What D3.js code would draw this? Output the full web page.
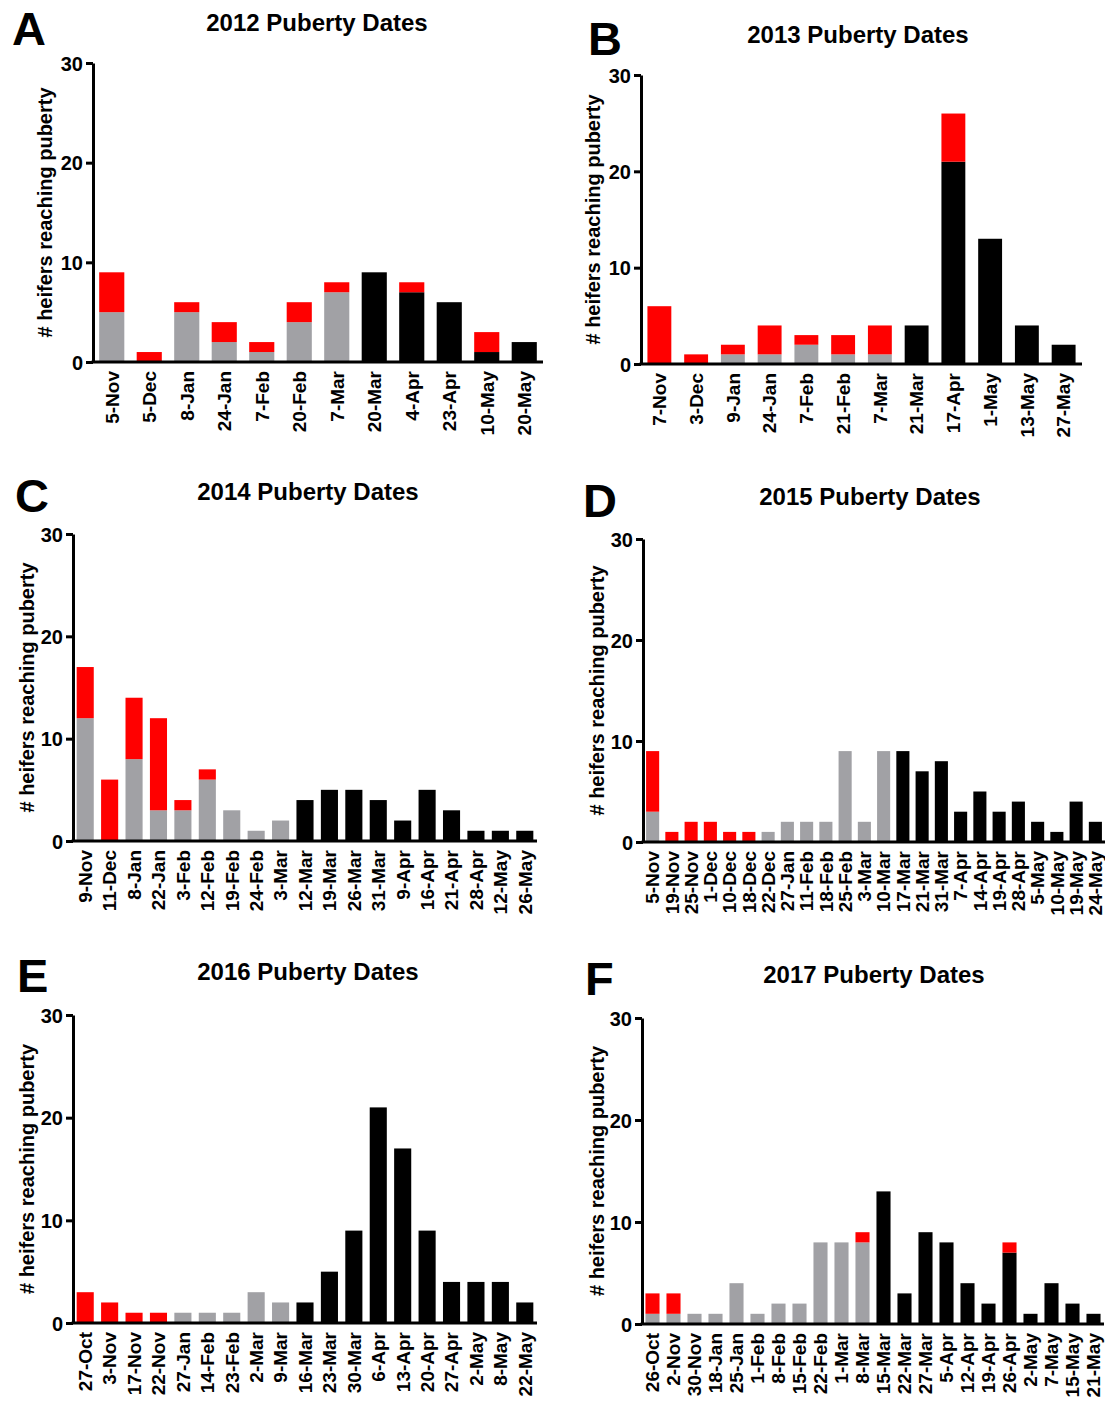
<!DOCTYPE html>
<html>
<head>
<meta charset="utf-8">
<script src="https://cdn.jsdelivr.net/npm/d3@7"></script>
<style>
  body { margin: 0; background: #fff; }
  text { font-family: "Liberation Sans", Arial, sans-serif; font-weight: bold; fill: #000; }
</style>
</head>
<body>
<svg id="fig" width="1105" height="1406"></svg>
<script>
// ---- data ----
var datesA = ["5-Nov", "5-Dec", "8-Jan", "24-Jan", "7-Feb", "20-Feb", "7-Mar", "20-Mar", "4-Apr", "23-Apr", "10-May", "20-May"];
var greyA  = [5, 0, 5, 2, 1, 4, 7, 0, 0, 0, 0, 0];
var blackA = [0, 0, 0, 0, 0, 0, 0, 9, 7, 6, 1, 2];
var redA   = [4, 1, 1, 2, 1, 2, 1, 0, 1, 0, 2, 0];

var datesB = ["7-Nov", "3-Dec", "9-Jan", "24-Jan", "7-Feb", "21-Feb", "7-Mar", "21-Mar", "17-Apr", "1-May", "13-May", "27-May"];
var greyB  = [0, 0, 1, 1, 2, 1, 1, 0, 0, 0, 0, 0];
var blackB = [0, 0, 0, 0, 0, 0, 0, 4, 21, 13, 4, 2];
var redB   = [6, 1, 1, 3, 1, 2, 3, 0, 5, 0, 0, 0];

var datesC = ["9-Nov", "11-Dec", "8-Jan", "22-Jan", "3-Feb", "12-Feb", "19-Feb", "24-Feb", "3-Mar", "12-Mar", "19-Mar", "26-Mar", "31-Mar", "9-Apr", "16-Apr", "21-Apr", "28-Apr", "12-May", "26-May"];
var greyC  = [12, 0, 8, 3, 3, 6, 3, 1, 2, 0, 0, 0, 0, 0, 0, 0, 0, 0, 0];
var blackC = [0, 0, 0, 0, 0, 0, 0, 0, 0, 4, 5, 5, 4, 2, 5, 3, 1, 1, 1];
var redC   = [5, 6, 6, 9, 1, 1, 0, 0, 0, 0, 0, 0, 0, 0, 0, 0, 0, 0, 0];

var datesD = ["5-Nov", "19-Nov", "25-Nov", "1-Dec", "10-Dec", "18-Dec", "22-Dec", "27-Jan", "11-Feb", "18-Feb", "25-Feb", "3-Mar", "10-Mar", "17-Mar", "21-Mar", "31-Mar", "7-Apr", "14-Apr", "19-Apr", "28-Apr", "5-May", "10-May", "19-May", "24-May"];
var greyD  = [3, 0, 0, 0, 0, 0, 1, 2, 2, 2, 9, 2, 9, 0, 0, 0, 0, 0, 0, 0, 0, 0, 0, 0];
var blackD = [0, 0, 0, 0, 0, 0, 0, 0, 0, 0, 0, 0, 0, 9, 7, 8, 3, 5, 3, 4, 2, 1, 4, 2];
var redD   = [6, 1, 2, 2, 1, 1, 0, 0, 0, 0, 0, 0, 0, 0, 0, 0, 0, 0, 0, 0, 0, 0, 0, 0];

var datesE = ["27-Oct", "3-Nov", "17-Nov", "22-Nov", "27-Jan", "14-Feb", "23-Feb", "2-Mar", "9-Mar", "16-Mar", "23-Mar", "30-Mar", "6-Apr", "13-Apr", "20-Apr", "27-Apr", "2-May", "8-May", "22-May"];
var greyE  = [0, 0, 0, 0, 1, 1, 1, 3, 2, 0, 0, 0, 0, 0, 0, 0, 0, 0, 0];
var blackE = [0, 0, 0, 0, 0, 0, 0, 0, 0, 2, 5, 9, 21, 17, 9, 4, 4, 4, 2];
var redE   = [3, 2, 1, 1, 0, 0, 0, 0, 0, 0, 0, 0, 0, 0, 0, 0, 0, 0, 0];

var datesF = ["26-Oct", "2-Nov", "30-Nov", "18-Jan", "25-Jan", "1-Feb", "8-Feb", "15-Feb", "22-Feb", "1-Mar", "8-Mar", "15-Mar", "22-Mar", "27-Mar", "5-Apr", "12-Apr", "19-Apr", "26-Apr", "2-May", "7-May", "15-May", "21-May"];
var greyF  = [1, 1, 1, 1, 4, 1, 2, 2, 8, 8, 8, 0, 0, 0, 0, 0, 0, 0, 0, 0, 0, 0];
var blackF = [0, 0, 0, 0, 0, 0, 0, 0, 0, 0, 0, 13, 3, 9, 8, 4, 2, 7, 1, 4, 2, 1];
var redF   = [2, 2, 0, 0, 0, 0, 0, 0, 0, 0, 1, 0, 0, 0, 0, 0, 0, 1, 0, 0, 0, 0];

var yTicks = [0, 10, 20, 30];
var yLabel = "# heifers reaching puberty";
var colors = { grey: "#a1a1a5", black: "#000000", red: "#ff0000" };

// ---- layout of each panel ----
var panels = [
    { letter: "A", title: "2012 Puberty Dates", dates: datesA, grey: greyA, black: blackA, red: redA,
      x0: 93, x1: 543, yTop: 63, yBot: 362, pad: 0.33, tx: 317, ty: 31, lx: 12, ly: 45, ytx: 45 },
    { letter: "B", title: "2013 Puberty Dates", dates: datesB, grey: greyB, black: blackB, red: redB,
      x0: 641, x1: 1082, yTop: 75, yBot: 364, pad: 0.35, tx: 858, ty: 43, lx: 588, ly: 55, ytx: 593 },
    { letter: "C", title: "2014 Puberty Dates", dates: datesC, grey: greyC, black: blackC, red: redC,
      x0: 73, x1: 537, yTop: 534, yBot: 841, pad: 0.3, tx: 308, ty: 500, lx: 15, ly: 512, ytx: 27 },
    { letter: "D", title: "2015 Puberty Dates", dates: datesD, grey: greyD, black: blackD, red: redD,
      x0: 643, x1: 1105, yTop: 539, yBot: 842, pad: 0.32, tx: 870, ty: 505, lx: 583, ly: 517, ytx: 597 },
    { letter: "E", title: "2016 Puberty Dates", dates: datesE, grey: greyE, black: blackE, red: redE,
      x0: 73, x1: 537, yTop: 1015, yBot: 1323, pad: 0.3, tx: 308, ty: 980, lx: 17, ly: 992, ytx: 27 },
    { letter: "F", title: "2017 Puberty Dates", dates: datesF, grey: greyF, black: blackF, red: redF,
      x0: 642, x1: 1104, yTop: 1018, yBot: 1324, pad: 0.33, tx: 874, ty: 983, lx: 585, ly: 995, ytx: 597 }
];

var svg = d3.select("#fig");

panels.forEach(function(p) {
    var g = svg.append("g");

    var rows = p.dates.map(function(d, i) {
        return { date: d, grey: p.grey[i], black: p.black[i], red: p.red[i] };
    });
    var series = d3.stack().keys(["grey", "black", "red"])(rows);

    var x = d3.scaleBand()
        .domain(p.dates)
        .range([p.x0, p.x1])
        .paddingInner(p.pad)
        .paddingOuter(p.pad / 2);
    var y = d3.scaleLinear().domain([0, 30]).range([p.yBot, p.yTop]);

    //bars
    g.selectAll(".layer")
        .data(series)
        .enter().append("g")
        .attr("fill", function(d) { return colors[d.key]; })
        .selectAll("rect")
        .data(function(d) { return d.filter(function(s) { return s[1] > s[0]; }); })
        .enter().append("rect")
        .attr("x", function(d) { return x(d.data.date); })
        .attr("width", x.bandwidth())
        .attr("y", function(d) { return y(d[1]); })
        .attr("height", function(d) { return y(d[0]) - y(d[1]); });

    //y axis
    var yAxis = g.append("g")
        .attr("transform", "translate(" + p.x0 + ",0)")
        .call(d3.axisLeft(y).tickValues(yTicks).tickSize(7).tickPadding(3).tickSizeOuter(0));
    yAxis.select(".domain").attr("stroke-width", 3);
    yAxis.selectAll(".tick line").attr("stroke-width", 3);
    yAxis.selectAll(".tick text").style("font-size", "20px").attr("dy", "0.36em");

    //x axis
    var xAxis = g.append("g")
        .attr("transform", "translate(0," + p.yBot + ")")
        .call(d3.axisBottom(x).tickSize(0).tickPadding(0).tickSizeOuter(0));
    xAxis.select(".domain").attr("stroke-width", 3)
        .attr("d", "M" + (p.x0 - 1.5) + ",0H" + p.x1);
    xAxis.selectAll(".tick text")
        .style("font-size", "19px")
        .attr("text-anchor", "end")
        .attr("transform", "rotate(-90)")
        .attr("x", -9)
        .attr("y", 0)
        .attr("dy", "0.36em");

    //y axis title
    g.append("text")
        .attr("transform", "translate(" + p.ytx + "," + ((p.yTop + p.yBot) / 2) + ") rotate(-90)")
        .attr("text-anchor", "middle")
        .attr("dy", "0.36em")
        .style("font-size", "20px")
        .text(yLabel);

    //title
    g.append("text")
        .attr("x", p.tx)
        .attr("y", p.ty)
        .attr("text-anchor", "middle")
        .style("font-size", "24px")
        .text(p.title);

    //panel letter
    g.append("text")
        .attr("x", p.lx)
        .attr("y", p.ly)
        .style("font-size", "47px")
        .text(p.letter);
});
</script>
</body>
</html>
